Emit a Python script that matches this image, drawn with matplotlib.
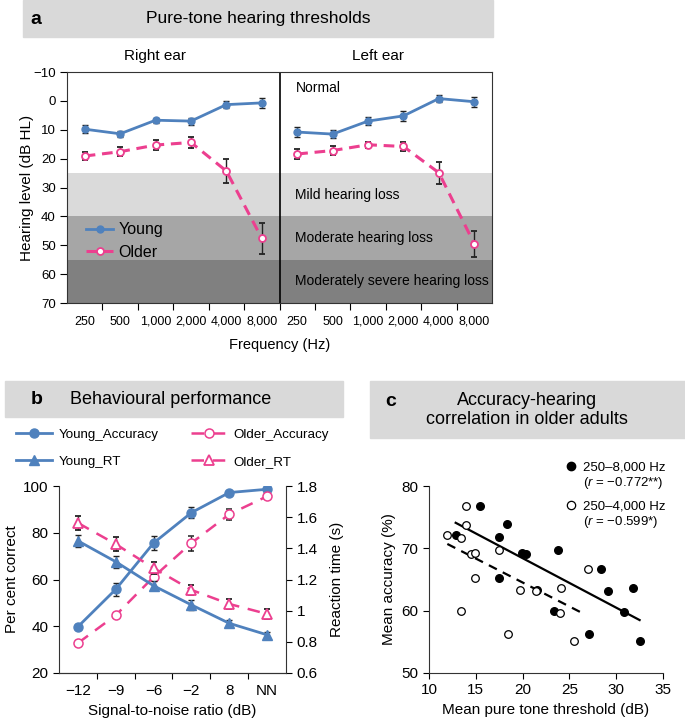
import matplotlib
matplotlib.use('Agg')
import matplotlib.pyplot as plt
import numpy as np
from matplotlib.lines import Line2D
from matplotlib.patches import Rectangle
from matplotlib.ticker import FuncFormatter

plt.rcParams['font.family'] = ['Liberation Sans', 'DejaVu Sans']
plt.rcParams['mathtext.fontset'] = 'custom'
plt.rcParams['mathtext.it'] = 'Liberation Sans:italic'
plt.rcParams['mathtext.rm'] = 'Liberation Sans'

BLUE = '#4f81bd'
PINK = '#ec3f8f'
ERR = '#222222'

# ---- panel a: pure-tone thresholds (dB HL)
freqs = ['250', '500', '1,000', '2,000', '4,000', '8,000']
young_right = [9.8, 11.4, 6.7, 7.0, 1.3, 0.7]
young_right_err = [1.3, 1.0, 0.8, 1.2, 1.1, 1.7]
older_right = [19.1, 17.6, 15.3, 14.4, 24.3, 47.6]
older_right_err = [1.4, 1.6, 1.7, 1.9, 4.0, 5.4]
young_left = [10.8, 11.5, 7.0, 5.2, -0.8, 0.3]
young_left_err = [1.7, 1.4, 1.3, 1.6, 1.3, 1.7]
older_left = [18.4, 17.2, 15.2, 15.8, 24.9, 49.5]
older_left_err = [1.6, 1.5, 1.0, 1.5, 3.9, 4.4]
band_edges = [25, 40, 55, 70]
band_names = ['Mild hearing loss', 'Moderate hearing loss', 'Moderately severe hearing loss']

# ---- panel b: behavioural performance
snr_labels = ['\u221212', '\u22129', '\u22126', '\u22122', '8', 'NN']
young_acc = [39.8, 55.8, 75.6, 88.6, 97.2, 98.6]
young_acc_err = [1.0, 2.7, 2.8, 2.3, 0.8, 0.8]
older_acc = [32.8, 44.7, 61.1, 75.6, 87.9, 95.6]
older_acc_err = [0.8, 1.0, 1.5, 3.2, 2.3, 1.0]
young_rt = [1.448, 1.314, 1.160, 1.037, 0.919, 0.845]
young_rt_err = [0.04, 0.04, 0.03, 0.03, 0.02, 0.02]
older_rt = [1.563, 1.427, 1.273, 1.133, 1.043, 0.979]
older_rt_err = [0.045, 0.045, 0.04, 0.03, 0.03, 0.03]

# ---- panel c: accuracy vs hearing in older adults
pta_8k = [12.85, 15.42, 17.49, 17.49, 18.31, 19.95, 20.38, 21.52,
          23.73, 23.34, 27.05, 28.37, 29.15, 30.79, 31.75, 32.5]
acc_8k = [72.2, 76.8, 71.8, 65.3, 73.9, 69.3, 69.1, 63.3,
          69.7, 60.0, 56.3, 66.7, 63.1, 59.8, 63.7, 55.2]
pta_4k = [11.96, 13.92, 13.96, 13.46, 13.46, 14.46, 14.96, 14.96,
          17.45, 18.49, 19.77, 21.45, 24.09, 23.98, 25.51, 26.98]
acc_4k = [72.2, 76.8, 73.8, 71.7, 60.0, 69.1, 69.3, 65.3,
          69.7, 56.3, 63.3, 63.1, 63.7, 59.6, 55.2, 66.7]
fit_8k = (-0.794, 84.30)   # slope, intercept
fit_4k = (-0.769, 79.90)

W, H = 685, 723
fig = plt.figure(figsize=(W / 100, H / 100), dpi=100)


def rect(l, t, r, b):
    return [l / W, 1 - b / H, (r - l) / W, (b - t) / H]


def banner(l, t, r, b):
    fig.add_artist(Rectangle((l / W, 1 - b / H), (r - l) / W, (b - t) / H,
                             transform=fig.transFigure, color='#d9d9d9', zorder=0))


def fx(x):
    return x / W


def fy(y):
    return 1 - y / H


# ================= panel a
banner(23, 0, 493, 37)
fig.text(fx(36), fy(19), 'a', fontsize=14, fontweight='bold', ha='center', va='center')
fig.text(fx(258), fy(18), 'Pure-tone hearing thresholds', fontsize=12.5,
         ha='center', va='center')
fig.text(fx(155), fy(56), 'Right ear', fontsize=11, ha='center', va='center')
fig.text(fx(378), fy(56), 'Left ear', fontsize=11, ha='center', va='center')

axa = fig.add_axes(rect(67, 72, 492, 303))
n = len(freqs)
xr = np.arange(n)
xl = np.arange(n) + n
band_colors = ['#dadada', '#a6a6a6', '#808080']
for lo, hi, c in zip(band_edges[:-1], band_edges[1:], band_colors):
    axa.axhspan(lo, hi, color=c, lw=0, zorder=0)
axa.axvline(n - 0.5, color='black', lw=1.2, zorder=1)

for xs, y, e, yo, eo in [(xr, young_right, young_right_err, older_right, older_right_err),
                         (xl, young_left, young_left_err, older_left, older_left_err)]:
    axa.errorbar(xs, y, yerr=e, color=BLUE, lw=2, marker='o', ms=5,
                 ecolor=ERR, elinewidth=1, capsize=2.5, capthick=1, zorder=3)
    axa.errorbar(xs, yo, yerr=eo, color=PINK, lw=2.2, ls=(0, (3.5, 2.2)), marker='o', ms=5,
                 mfc='white', mec=PINK, mew=1.3,
                 ecolor=ERR, elinewidth=1, capsize=2.5, capthick=1, zorder=3)

axa.set_xlim(-0.5, 2 * n - 0.5)
axa.set_ylim(70, -10)
axa.set_yticks(range(-10, 71, 10))
axa.set_xticks(np.arange(0.5, 2 * n - 1, 1.0))
axa.set_xticklabels([])
axa.set_xticks(np.arange(2 * n), minor=True)
axa.set_xticklabels(freqs + freqs, minor=True, fontsize=9)
axa.tick_params(axis='x', which='major', length=5, direction='out')
axa.tick_params(axis='x', which='minor', length=0, pad=9)
axa.tick_params(axis='y', length=5, labelsize=9.5, pad=3)
for s in axa.spines.values():
    s.set_color('#333333')
axa.set_ylabel('Hearing level (dB HL)', fontsize=11)
axa.yaxis.set_label_coords(-0.078, 0.5)
fig.text(fx(280), fy(345), 'Frequency (Hz)', fontsize=10.5, ha='center', va='center')

tx = n - 0.5 + 0.45
axa.text(tx, -4.5, 'Normal', fontsize=10, va='center')
for lo, hi, name in zip(band_edges[:-1], band_edges[1:], band_names):
    axa.text(tx, (lo + hi) / 2, name, fontsize=10, va='center')

handles_a = [Line2D([], [], color=BLUE, lw=2, marker='o', ms=5),
             Line2D([], [], color=PINK, lw=2.2, ls=(0, (3.5, 2.2)), marker='o', ms=5,
                    mfc='white', mec=PINK, mew=1.3)]
axa.legend(handles_a, ['Young', 'Older'], loc='center left',
           bbox_to_anchor=(fx(86), fy(241)), bbox_transform=fig.transFigure,
           frameon=False, fontsize=11.5, handlelength=1.7, borderpad=0,
           borderaxespad=0, handletextpad=0.35, labelspacing=0.45)

# ================= panel b
banner(5, 381, 343, 417)
fig.text(fx(37), fy(399), 'b', fontsize=14, fontweight='bold', ha='center', va='center')
fig.text(fx(70), fy(399), 'Behavioural performance', fontsize=13, ha='left', va='center')

axb = fig.add_axes(rect(59, 486, 286, 673))
axr = axb.twinx()
xb = np.arange(len(snr_labels))
eb = dict(ecolor=ERR, elinewidth=1, capsize=2.5, capthick=1)
axb.errorbar(xb, young_acc, yerr=young_acc_err, color=BLUE, lw=2, marker='o', ms=6.5, zorder=3, **eb)
axb.errorbar(xb, older_acc, yerr=older_acc_err, color=PINK, lw=1.8, ls=(0, (5, 3.5)),
             marker='o', ms=6.5, mfc='white', mec=PINK, mew=1.1, zorder=3, **eb)
axr.errorbar(xb, young_rt, yerr=young_rt_err, color=BLUE, lw=2, marker='^', ms=7.5, zorder=3, **eb)
axr.errorbar(xb, older_rt, yerr=older_rt_err, color=PINK, lw=1.8, ls=(0, (5, 3.5)),
             marker='^', ms=7.5, mfc='white', mec=PINK, mew=1.3, zorder=3, **eb)

axb.set_xlim(-0.5, len(snr_labels) - 0.5)
axb.set_ylim(20, 100)
axr.set_ylim(0.6, 1.8)
axb.set_yticks(range(20, 101, 20))
axr.set_yticks(np.arange(0.6, 1.81, 0.2))
axr.yaxis.set_major_formatter(FuncFormatter(lambda v, p: '%g' % round(v, 1)))
axb.set_xticks(np.arange(0.5, len(snr_labels) - 1, 1.0))
axb.set_xticklabels([])
axb.set_xticks(xb, minor=True)
axb.set_xticklabels(snr_labels, minor=True)
axb.tick_params(axis='x', which='major', length=4)
axb.tick_params(axis='x', which='minor', length=0, pad=8, labelsize=11)
axb.tick_params(axis='y', length=4, labelsize=11)
axr.tick_params(axis='y', length=4, labelsize=11)
for a in (axb, axr):
    a.spines['top'].set_visible(False)
    for s in a.spines.values():
        s.set_color('#333333')
axb.spines['right'].set_visible(False)
axr.spines['left'].set_visible(False)
axb.set_ylabel('Per cent correct', fontsize=11, labelpad=3)
axr.set_ylabel('Reaction time (s)', fontsize=11, labelpad=9)
axb.set_xlabel('Signal-to-noise ratio (dB)', fontsize=11, labelpad=4)

handles_b = [Line2D([], [], color=BLUE, lw=2, marker='o', ms=6.5),
             Line2D([], [], color=BLUE, lw=2, marker='^', ms=7.5),
             Line2D([], [], color=PINK, lw=1.8, ls=(0, (5, 3.5)), marker='o', ms=6.5,
                    mfc='white', mec=PINK, mew=1.1),
             Line2D([], [], color=PINK, lw=1.8, ls=(0, (5, 3.5)), marker='^', ms=7.5,
                    mfc='white', mec=PINK, mew=1.3)]
fig.legend(handles_b, ['Young_Accuracy', 'Young_RT', 'Older_Accuracy', 'Older_RT'],
           ncol=2, loc='center left', bbox_to_anchor=(fx(16), fy(448)),
           frameon=False, fontsize=9.6, handlelength=2.7, handletextpad=0.5,
           columnspacing=2.4, labelspacing=1.1, borderpad=0, borderaxespad=0)

# ================= panel c
banner(370, 381, 685, 438)
fig.text(fx(391), fy(402), 'c', fontsize=14, fontweight='bold', ha='center', va='center')
fig.text(fx(527), fy(410), 'Accuracy-hearing\ncorrelation in older adults', fontsize=13,
         ha='center', va='center', linespacing=1.15)

axc = fig.add_axes(rect(429, 486, 663, 673))
axc.scatter(pta_8k, acc_8k, s=30, color='black', zorder=3)
axc.scatter(pta_4k, acc_4k, s=30, facecolor='white', edgecolor='black', lw=0.9, zorder=3)
x8 = np.array([min(pta_8k), max(pta_8k)])
x4 = np.array([min(pta_4k), 26.4])
axc.plot(x8, fit_8k[0] * x8 + fit_8k[1], color='black', lw=1.6, zorder=2)
axc.plot(x4, fit_4k[0] * x4 + fit_4k[1], color='black', lw=1.6, ls=(0, (4, 3)), zorder=2)
axc.set_xlim(10, 35)
axc.set_ylim(50, 80)
axc.set_xticks(range(10, 36, 5))
axc.set_yticks(range(50, 81, 10))
axc.tick_params(length=4, labelsize=11)
axc.spines['top'].set_visible(False)
axc.spines['right'].set_visible(False)
for s in axc.spines.values():
    s.set_color('#333333')
axc.set_ylabel('Mean accuracy (%)', fontsize=11, labelpad=4)
axc.set_xlabel('Mean pure tone threshold (dB)', fontsize=11, labelpad=4)

blank = Line2D([], [], ls='none')
h8 = Line2D([], [], ls='none', marker='o', ms=6, color='black')
h4 = Line2D([], [], ls='none', marker='o', ms=6, mfc='white', mec='black', mew=0.9)
leg1 = axc.legend([h8, blank], ['250\u20138,000 Hz', '($r$ = \u22120.772**)'],
                  loc='upper left', bbox_to_anchor=(fx(566), fy(461)),
                  bbox_transform=fig.transFigure, frameon=False, fontsize=9.5,
                  handlelength=0.8, handletextpad=0.5, labelspacing=0.15,
                  borderpad=0, borderaxespad=0)
axc.add_artist(leg1)
axc.legend([h4, blank], ['250\u20134,000 Hz', '($r$ = \u22120.599*)'],
           loc='upper left', bbox_to_anchor=(fx(566), fy(500)),
           bbox_transform=fig.transFigure, frameon=False, fontsize=9.5,
           handlelength=0.8, handletextpad=0.5, labelspacing=0.15,
           borderpad=0, borderaxespad=0)

fig.savefig('out.png', dpi=100)
